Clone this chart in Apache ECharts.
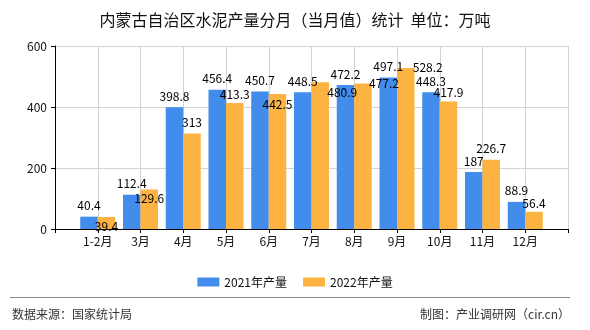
<!DOCTYPE html>
<html>
<head>
<meta charset="utf-8">
<script src="https://cdn.jsdelivr.net/npm/echarts@6/dist/echarts.min.js"></script>
<style>html,body{margin:0;padding:0;background:#fff;}#c{width:590px;height:330px;}</style>
</head>
<body>
<div id="c"></div>
<script>
const categories = ['1-2月','3月','4月','5月','6月','7月','8月','9月','10月','11月','12月'];
const values2021 = [40.4,112.4,398.8,456.4,450.7,448.5,472.2,497.1,448.3,187,88.9];
const values2022 = [39.4,129.6,313,413.3,442.5,480.9,477.2,528.2,417.9,226.7,56.4];
const seriesNames = ['2021年产量','2022年产量'];
const yTicks = [0,200,400,600];

const FONT = '"Noto Sans CJK SC", sans-serif';
const axisCats = [''].concat(categories, ['']);
// label nudges used by the original to avoid overlaps (orange series)
const shift2022 = {0:[0,20],1:[0,20],3:[0,2],4:[0,21],5:[22,21],6:[21,11],7:[22,11],8:[0,2],10:[0,3]};

function pad(arr, shifts) {
  const out = ['-'];
  arr.forEach((v, i) => {
    const item = { value: v };
    if (shifts && shifts[i]) item.label = { offset: shifts[i] };
    out.push(item);
  });
  out.push('-');
  return out;
}

const chart = echarts.init(document.getElementById('c'), null, { renderer: 'canvas' });
chart.setOption({
  animation: false,
  backgroundColor: '#fff',
  title: {
    text: '内蒙古自治区水泥产量分月（当月值）统计  单位：万吨',
    left: 'center', top: 7,
    textStyle: { fontFamily: FONT, fontSize: 16, fontWeight: 'normal', color: '#111' }
  },
  legend: {
    data: seriesNames, top: 271, left: 'center',
    itemWidth: 22, itemHeight: 9, itemGap: 16,
    icon: 'rect',
    textStyle: { fontFamily: FONT, fontSize: 12, color: '#111' }
  },
  grid: { left: 55, right: 22, top: 46, bottom: 101, containLabel: false },
  xAxis: {
    type: 'category', data: axisCats, boundaryGap: false,
    axisLine: { lineStyle: { color: '#000', width: 1 } },
    axisTick: { show: true, length: 4, lineStyle: { color: '#000' } },
    axisLabel: { interval: 0, fontFamily: FONT, fontSize: 12, color: '#111', margin: 6 },
    splitLine: { show: true, lineStyle: { color: '#d3d3d3' } }
  },
  yAxis: {
    type: 'value', min: yTicks[0], max: yTicks[yTicks.length-1], interval: 200,
    axisLine: { show: true, lineStyle: { color: '#000' } },
    axisTick: { show: true, length: 4, lineStyle: { color: '#000' } },
    axisLabel: { fontFamily: FONT, fontSize: 12, color: '#111', margin: 8 },
    splitLine: { show: true, lineStyle: { color: '#d3d3d3' } }
  },
  series: [
    {
      name: seriesNames[0], type: 'bar', barWidth: 17.5, barGap: '0%',
      itemStyle: { color: '#428cec' },
      label: { show: true, position: 'top', distance: 5, fontFamily: FONT, fontSize: 12, color: '#000' },
      data: pad(values2021)
    },
    {
      name: seriesNames[1], type: 'bar', barWidth: 17.5, barGap: '0%',
      itemStyle: { color: '#fcb341' },
      label: { show: true, position: 'top', distance: 5, fontFamily: FONT, fontSize: 12, color: '#000' },
      data: pad(values2022, shift2022)
    }
  ],
  graphic: [
    { type: 'line', shape: { x1: 10, y1: 297.5, x2: 570, y2: 297.5 }, style: { stroke: '#888', lineWidth: 1 } },
    { type: 'text', left: 12, top: 308, style: { text: '数据来源：国家统计局', font: '12px ' + FONT, fill: '#333' } },
    { type: 'text', right: 20, top: 308, style: { text: '制图：产业调研网（cir.cn）', font: '12px ' + FONT, fill: '#333' } }
  ]
});
</script>
</body>
</html>
